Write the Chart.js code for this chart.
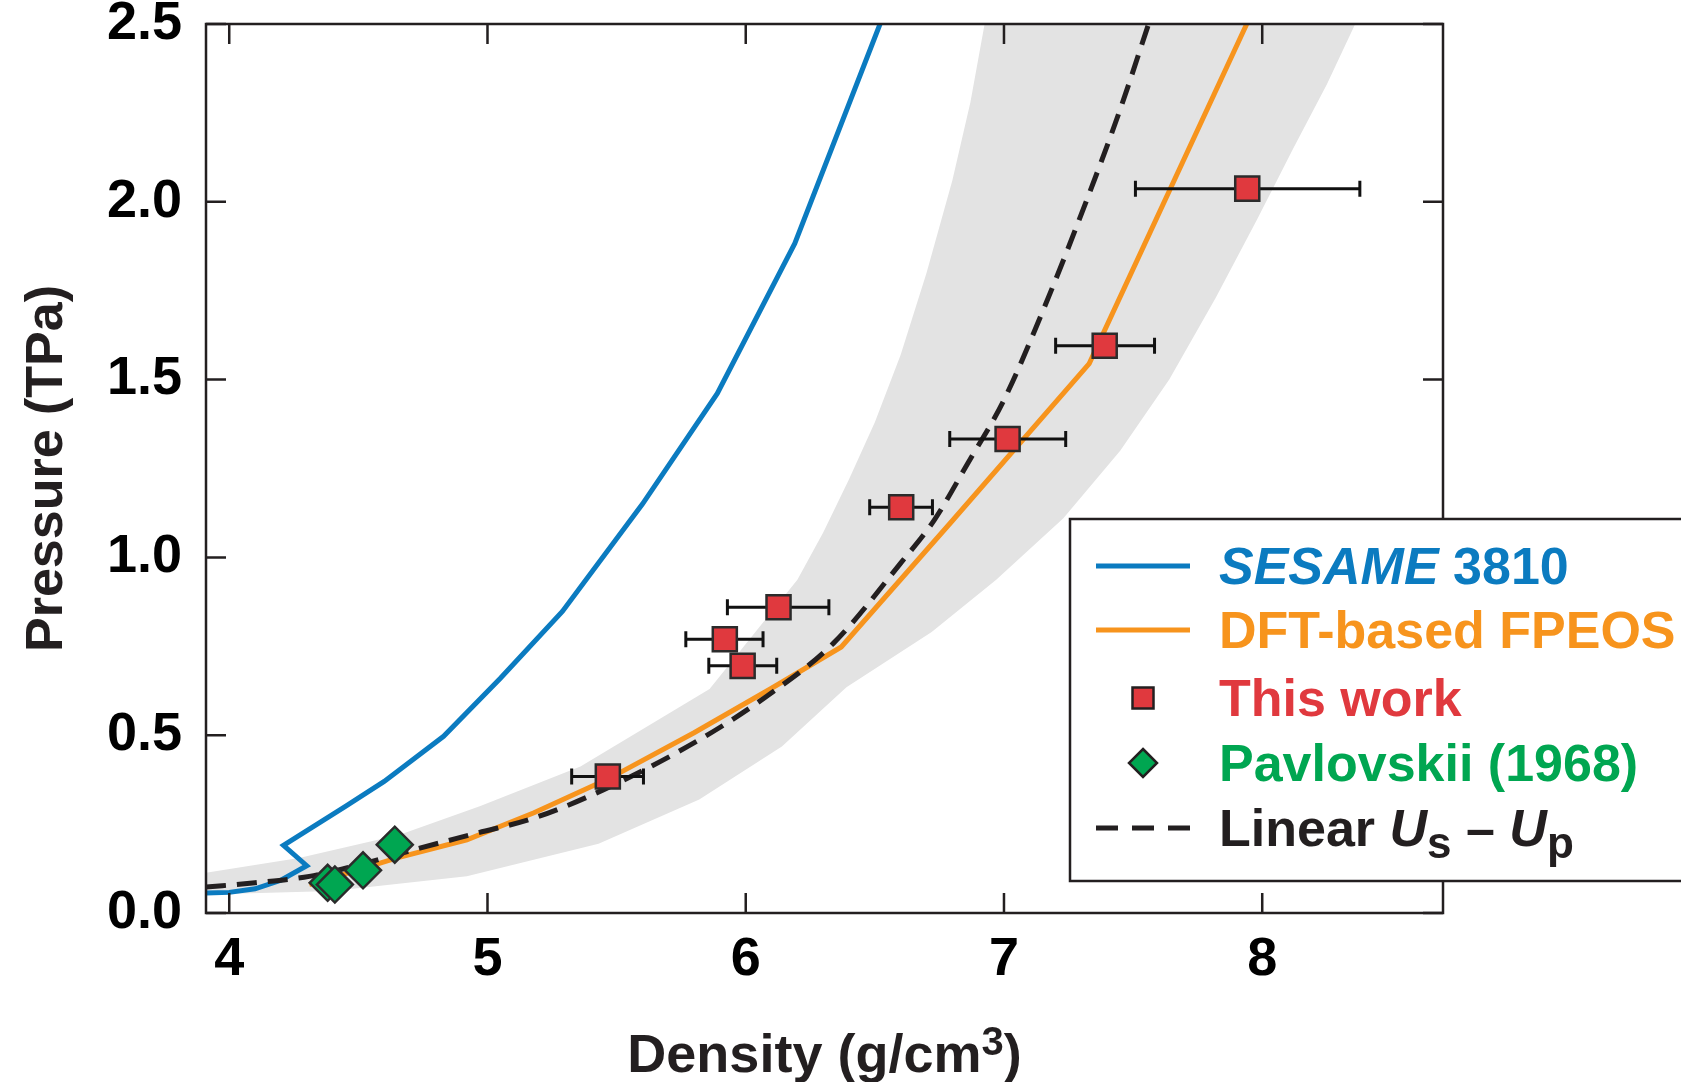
<!DOCTYPE html>
<html>
<head>
<meta charset="utf-8">
<title>Density vs pressure</title>
<script src="https://cdn.jsdelivr.net/npm/chart.js@4.4.0/dist/chart.umd.min.js"></script>
<style>
    html, body { margin: 0; padding: 0; background: #fff; }
    canvas { display: block; }
</style>
</head>
<body>
<canvas id="chart" width="1681" height="1082"></canvas>
<script>
// SESAME 3810 (note the kink near 4.2-4.3 g/cm3)
const sesameDensity = [3.91, 4.00, 4.10, 4.20, 4.30, 4.21, 4.45, 4.60, 4.83, 5.05, 5.29, 5.60, 5.89, 6.19, 6.52];
const sesamePressure = [0.056, 0.058, 0.068, 0.092, 0.133, 0.19, 0.30, 0.37, 0.497, 0.66, 0.848, 1.15, 1.461, 1.883, 2.50];

// DFT-based FPEOS
const fpeosDensity = [4.31, 4.48, 4.65, 4.92, 5.18, 5.47, 5.80, 6.10, 6.37, 6.80, 7.33, 7.94];
const fpeosPressure = [0.080, 0.117, 0.155, 0.206, 0.282, 0.378, 0.507, 0.632, 0.748, 1.103, 1.545, 2.50];

// Linear Us - Up
const linearDensity = [3.91, 4.10, 4.31, 4.50, 4.69, 4.95, 5.18, 5.45, 5.82, 6.08, 6.34, 6.60, 6.73, 6.86, 7.00, 7.16, 7.32, 7.45, 7.56];
const linearPressure = [0.073, 0.085, 0.103, 0.135, 0.173, 0.223, 0.267, 0.347, 0.487, 0.609, 0.759, 0.984, 1.105, 1.265, 1.443, 1.71, 2.004, 2.26, 2.50];

// grey uncertainty band, upper-left and lower-right edges
const bandUpperDensity = [3.91, 4.27, 4.66, 4.97, 5.36, 5.86, 6.20, 6.30, 6.40, 6.50, 6.60, 6.70, 6.80, 6.87, 6.925];
const bandUpperPressure = [0.113, 0.155, 0.22, 0.30, 0.412, 0.63, 0.937, 1.07, 1.22, 1.38, 1.57, 1.80, 2.06, 2.28, 2.50];
const bandLowerDensity = [3.91, 4.40, 4.92, 5.43, 5.82, 6.14, 6.39, 6.72, 6.97, 7.23, 7.45, 7.64, 7.82, 7.98, 8.12, 8.25, 8.36];
const bandLowerPressure = [0.052, 0.062, 0.103, 0.195, 0.319, 0.468, 0.635, 0.79, 0.937, 1.11, 1.30, 1.50, 1.73, 1.95, 2.15, 2.33, 2.50];

// this work, with density error bars
const thisWorkDensity = [5.466, 5.919, 5.988, 6.127, 6.602, 7.014, 7.390, 7.942];
const thisWorkPressure = [0.384, 0.770, 0.695, 0.860, 1.141, 1.333, 1.595, 2.037];
const thisWorkDensityLow = [5.326, 5.768, 5.857, 5.929, 6.480, 6.790, 7.200, 7.509];
const thisWorkDensityHigh = [5.604, 6.067, 6.120, 6.322, 6.723, 7.239, 7.583, 8.378];

// Pavlovskii (1968)
const pavlovskiiDensity = [4.381, 4.409, 4.518, 4.641];
const pavlovskiiPressure = [0.085, 0.080, 0.120, 0.192];

const xTicks = [4, 5, 6, 7, 8];
const yTicks = [0, 0.5, 1.0, 1.5, 2.0, 2.5];

const FONT = '"Liberation Sans", Arial, Helvetica, sans-serif';
const INK = '#231f20';
const BLUE = '#0b7bc0';
const ORANGE = '#f7941d';
const RED = '#e0393e';
const GREEN = '#00a651';
const GREY = '#e3e3e3';

const toPoints = (xs, ys) => xs.map((x, i) => ({ x, y: ys[i] }));

// closed polygon: upper edge, along the top, back down the lower edge
const bandPolygon = toPoints(bandUpperDensity, bandUpperPressure)
    .concat(toPoints(bandLowerDensity, bandLowerPressure).reverse());

const frameAndTicks = {
    id: 'frameAndTicks',
    afterDatasetsDraw(chart) {
        const { ctx, chartArea: a, scales: { x, y } } = chart;
        ctx.save();
        ctx.strokeStyle = INK;
        ctx.lineWidth = 2.5;
        ctx.strokeRect(a.left, a.top, a.right - a.left, a.bottom - a.top);
        ctx.beginPath();
        xTicks.forEach((v) => {
            const px = x.getPixelForValue(v);
            ctx.moveTo(px, a.bottom);
            ctx.lineTo(px, a.bottom - 20);
            ctx.moveTo(px, a.top);
            ctx.lineTo(px, a.top + 20);
        });
        yTicks.forEach((v) => {
            const py = y.getPixelForValue(v);
            ctx.moveTo(a.left, py);
            ctx.lineTo(a.left + 20, py);
            ctx.moveTo(a.right, py);
            ctx.lineTo(a.right - 20, py);
        });
        ctx.stroke();
        ctx.restore();
    },
};

const errorBars = {
    id: 'errorBars',
    beforeDatasetDraw(chart, args) {
        if (chart.data.datasets[args.index].label !== 'This work') {
            return;
        }
        const { ctx, scales: { x, y } } = chart;
        ctx.save();
        ctx.strokeStyle = '#111';
        ctx.lineWidth = 3;
        thisWorkDensity.forEach((d, i) => {
            const py = y.getPixelForValue(thisWorkPressure[i]);
            const x0 = x.getPixelForValue(thisWorkDensityLow[i]);
            const x1 = x.getPixelForValue(thisWorkDensityHigh[i]);
            ctx.beginPath();
            ctx.moveTo(x0, py);
            ctx.lineTo(x1, py);
            ctx.moveTo(x0, py - 8);
            ctx.lineTo(x0, py + 8);
            ctx.moveTo(x1, py - 8);
            ctx.lineTo(x1, py + 8);
            ctx.stroke();
        });
        ctx.restore();
    },
};

function runsWidth(ctx, runs) {
    return runs.reduce((w, r) => {
        ctx.font = `${r.italic ? 'italic ' : ''}bold ${r.size || 52}px ${FONT}`;
        return w + ctx.measureText(r.text).width;
    }, 0);
}

function drawRuns(ctx, runs, x, baseline, color) {
    ctx.fillStyle = color;
    ctx.textBaseline = 'alphabetic';
    ctx.textAlign = 'left';
    runs.forEach((r) => {
        ctx.font = `${r.italic ? 'italic ' : ''}bold ${r.size || 52}px ${FONT}`;
        ctx.fillText(r.text, x, baseline + (r.dy || 0));
        x += ctx.measureText(r.text).width;
    });
}

// x-axis title with a real superscript 3
const densityTitle = {
    id: 'densityTitle',
    afterDraw(chart) {
        const { ctx, chartArea: a } = chart;
        const runs = [
            { text: 'Density (g/cm', size: 54 },
            { text: '3', size: 40, dy: -17 },
            { text: ')', size: 54 },
        ];
        ctx.save();
        const w = runsWidth(ctx, runs);
        drawRuns(ctx, runs, (a.left + a.right) / 2 - w / 2, 1072, INK);
        ctx.restore();
    },
};

const legendBox = {
    id: 'legendBox',
    afterDraw(chart) {
        const { ctx } = chart;
        const left = 1070, top = 519, bottom = 881;
        const rows = [566, 630, 698, 763, 828];
        const sx0 = 1096, sx1 = 1190, mx = 1143, tx = 1219, lift = 18;

        ctx.save();
        ctx.fillStyle = '#fff';
        ctx.fillRect(left, top, 700, bottom - top);
        ctx.strokeStyle = INK;
        ctx.lineWidth = 2.5;
        ctx.strokeRect(left, top, 700, bottom - top);

        ctx.lineWidth = 5;
        ctx.strokeStyle = BLUE;
        ctx.beginPath(); ctx.moveTo(sx0, rows[0]); ctx.lineTo(sx1, rows[0]); ctx.stroke();
        ctx.strokeStyle = ORANGE;
        ctx.beginPath(); ctx.moveTo(sx0, rows[1]); ctx.lineTo(sx1, rows[1]); ctx.stroke();
        ctx.strokeStyle = INK;
        ctx.setLineDash([22, 14]);
        ctx.beginPath(); ctx.moveTo(sx0, rows[4]); ctx.lineTo(sx1, rows[4]); ctx.stroke();
        ctx.setLineDash([]);

        ctx.lineWidth = 2.5;
        ctx.fillStyle = RED;
        ctx.fillRect(mx - 10.5, rows[2] - 10.5, 21, 21);
        ctx.strokeRect(mx - 10.5, rows[2] - 10.5, 21, 21);
        ctx.fillStyle = GREEN;
        ctx.beginPath();
        ctx.moveTo(mx, rows[3] - 14);
        ctx.lineTo(mx + 14, rows[3]);
        ctx.lineTo(mx, rows[3] + 14);
        ctx.lineTo(mx - 14, rows[3]);
        ctx.closePath();
        ctx.fill();
        ctx.stroke();

        drawRuns(ctx, [{ text: 'SESAME', italic: true }, { text: ' 3810' }], tx, rows[0] + lift, BLUE);
        drawRuns(ctx, [{ text: 'DFT-based FPEOS' }], tx, rows[1] + lift, ORANGE);
        drawRuns(ctx, [{ text: 'This work' }], tx, rows[2] + lift, RED);
        drawRuns(ctx, [{ text: 'Pavlovskii (1968)' }], tx, rows[3] + lift, GREEN);
        drawRuns(ctx, [
            { text: 'Linear ' },
            { text: 'U', italic: true },
            { text: 's', size: 44, dy: 12 },
            { text: ' \u2013 ' },
            { text: 'U', italic: true },
            { text: 'p', size: 44, dy: 12 },
        ], tx, rows[4] + lift, INK);
        ctx.restore();
    },
};

new Chart(document.getElementById('chart'), {
    type: 'scatter',
    data: {
        datasets: [
            {
                label: 'band',
                data: bandPolygon,
                showLine: true,
                fill: 'shape',
                backgroundColor: GREY,
                borderWidth: 0,
                pointRadius: 0,
                order: 6,
            },
            {
                label: 'SESAME 3810',
                data: toPoints(sesameDensity, sesamePressure),
                showLine: true,
                borderColor: BLUE,
                borderWidth: 5,
                pointRadius: 0,
                order: 5,
            },
            {
                label: 'DFT-based FPEOS',
                data: toPoints(fpeosDensity, fpeosPressure),
                showLine: true,
                borderColor: ORANGE,
                borderWidth: 5,
                pointRadius: 0,
                order: 4,
            },
            {
                label: 'Linear Us - Up',
                data: toPoints(linearDensity, linearPressure),
                showLine: true,
                borderColor: INK,
                borderWidth: 5,
                borderDash: [20, 11],
                cubicInterpolationMode: 'monotone',
                pointRadius: 0,
                order: 3,
            },
            {
                label: 'This work',
                data: toPoints(thisWorkDensity, thisWorkPressure),
                pointStyle: 'rect',
                pointRadius: 17,
                backgroundColor: RED,
                borderColor: '#2b2b2b',
                borderWidth: 2.5,
                order: 2,
            },
            {
                label: 'Pavlovskii (1968)',
                data: toPoints(pavlovskiiDensity, pavlovskiiPressure),
                pointStyle: 'rectRot',
                pointRadius: 18,
                backgroundColor: GREEN,
                borderColor: '#2b2b2b',
                borderWidth: 2.5,
                order: 1,
            },
        ],
    },
    options: {
        responsive: false,
        animation: false,
        devicePixelRatio: 1,
        layout: {
            padding: { top: 24, right: 238, bottom: 0, left: 0 },
        },
        plugins: {
            legend: { display: false },
            tooltip: { enabled: false },
        },
        scales: {
            x: {
                type: 'linear',
                min: 3.91,
                max: 8.7,
                afterFit: (scale) => {
                    scale.height = 169;
                    scale.paddingLeft = 0;
                    scale.paddingRight = 0;
                },
                grid: { display: false, drawTicks: false },
                border: { display: false },
                ticks: {
                    stepSize: 1,
                    includeBounds: false,
                    padding: 15,
                    color: '#000',
                    font: { family: FONT, size: 54, weight: 'bold' },
                },
                title: { display: false },
            },
            y: {
                type: 'linear',
                min: 0,
                max: 2.5,
                afterFit: (scale) => {
                    scale.width = 206;
                    scale.paddingTop = 0;
                    scale.paddingBottom = 0;
                },
                grid: { display: false, drawTicks: false },
                border: { display: false },
                ticks: {
                    stepSize: 0.5,
                    padding: 24,
                    color: '#000',
                    font: { family: FONT, size: 54, weight: 'bold' },
                    callback: (v) => v.toFixed(1),
                },
                title: {
                    display: true,
                    text: 'Pressure (TPa)',
                    color: INK,
                    padding: 0,
                    font: { family: FONT, size: 52, weight: 'bold', lineHeight: 1.846 },
                },
            },
        },
    },
    plugins: [errorBars, frameAndTicks, densityTitle, legendBox],
});
</script>
</body>
</html>
